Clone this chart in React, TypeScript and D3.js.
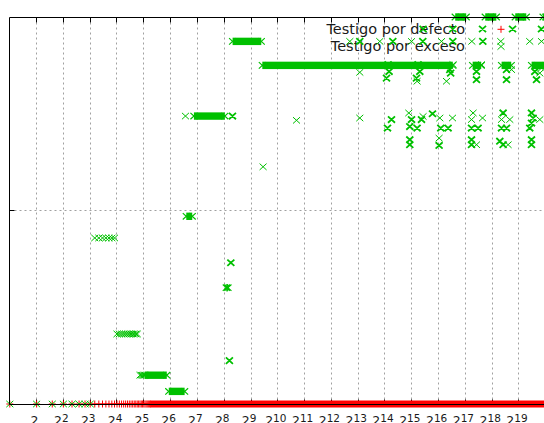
import React from "react";
import * as d3 from "d3";

const WIDTH = 544;
const HEIGHT = 423;

// x axis: n on a base-2 log scale, labelled 2^k
const X_MIN = 1;
const X_MAX = 1048576;
const tickExponents = [1, 2, 3, 4, 5, 6, 7, 8, 9, 10, 11, 12, 13, 14, 15, 16, 17, 18, 19];
const yGridValues = [0.5];

const seriesNames = ["Testigo por defecto", "Testigo por exceso"];

// "defecto" witness: value 0 for every n; individual n first, then the dense run
const defectoPoints = [
  1, 2, 3, 4, 5, 6, 7, 8, 9, 10, 11, 12, 13, 14, 15, 16, 17, 18, 19, 20, 21, 22, 23, 24, 25,
  26, 27, 28, 29, 30, 31, 32, 33, 34, 35, 36, 37, 38,
];
const defectoRuns: [number, number, number][] = [[38, 1048576, 0]];

// "exceso" witness: isolated points [n, value]
const excesoPoints: [number, number][] = [
  [1, 0], [2, 0], [3, 0], [4, 0], [5, 0], [6, 0], [7, 0], [8, 0],
  [9, 0.429], [10, 0.429], [11, 0.429], [12, 0.429], [13, 0.429], [14, 0.429], [15, 0.429],
  [16, 0.181], [17, 0.181], [18, 0.181], [19, 0.181], [20, 0.181], [21, 0.181],
  [22, 0.181], [23, 0.181], [24, 0.181], [25, 0.181], [26, 0.181], [27, 0.181],
  [29, 0.0744], [30, 0.0744], [31, 0.0744], [32, 0.0744],
  [94, 0.744], [700, 0.613], [1661, 0.733],
  [6595, 0.937], [14320, 0.937], [32540, 0.937], [70650, 0.937], [154800, 0.937],
  [327200, 0.937], [692000, 0.937], [938500, 0.937],
  [8536, 0.857], [95360, 0.877], [80400, 0.834], [198800, 0.877], [431800, 0.864],
  [938500, 0.868], [897600, 0.855], [37580, 0.834],
  [8536, 0.739], [30330, 0.752], [43840, 0.743], [67620, 0.739], [66410, 0.687],
  [93900, 0.739], [159900, 0.752], [153500, 0.735], [204200, 0.739], [174600, 0.67],
  [333500, 0.735], [413400, 0.735], [395400, 0.67], [897600, 0.735],
];

// "exceso" witness: spots where several n share nearly the same position
const excesoStacked: [number, number][] = [
  [293, 0.112], [304, 0.365], [317, 0.744],
  [43840, 0.969], [94630, 0.969], [204200, 0.969], [443800, 0.969], [938500, 0.969],
  [8536, 0.937], [20040, 0.937], [43550, 0.937], [94630, 0.937], [205700, 0.937],
  [17760, 0.877], [18220, 0.859], [17040, 0.842],
  [38570, 0.877], [40300, 0.859], [36990, 0.842],
  [87560, 0.864], [89500, 0.855],
  [174600, 0.859], [174600, 0.838],
  [379600, 0.864], [379600, 0.838],
  [789100, 0.859], [824700, 0.838],
  [19380, 0.735], [17480, 0.713],
  [32540, 0.735], [31110, 0.717], [37580, 0.713], [42110, 0.735], [55960, 0.75],
  [69350, 0.713], [31110, 0.683], [31110, 0.67], [66410, 0.668],
  [83770, 0.713],
  [153500, 0.713], [182000, 0.713], [153500, 0.683], [153500, 0.67],
  [347600, 0.752], [333500, 0.713], [379600, 0.713], [319300, 0.679], [347600, 0.67],
  [724200, 0.752], [755000, 0.739], [724200, 0.726], [692000, 0.713], [724200, 0.683], [724200, 0.67],
];

// "exceso" witness: runs of consecutive n sharing one value [from, to, value]
const excesoRuns: [number, number, number][] = [
  [33, 58, 0.0744],
  [61, 92, 0.0326],
  [96, 112, 0.485],
  [117, 260, 0.744],
  [270, 282, 0.3005],
  [318, 668, 0.937],
  [686, 94630, 0.875],
  [158000, 197400, 0.875],
  [334000, 428900, 0.875],
  [726000, 1048576, 0.875],
  [100700, 133800, 1.0],
  [218900, 291700, 1.0],
  [475800, 632900, 1.0],
  [978400, 1048576, 1.0],
];

const RED = "#ff0000";
const GREEN = "#00c000";
const GRID = "#a0a0a0";
const FONT = "'DejaVu Sans', sans-serif";

const S = 3.5; // marker half size
const SY = 3.2;

const crossPath = (cx: number, cy: number) =>
  `M${cx - S},${cy - SY}L${cx + S},${cy + SY}M${cx - S},${cy + SY}L${cx + S},${cy - SY}`;
const plusPath = (cx: number, cy: number) =>
  `M${cx - S},${cy}L${cx + S},${cy}M${cx},${cy - S}L${cx},${cy + S}`;

export default function App() {
  const x = d3.scaleLog().base(2).domain([X_MIN, X_MAX]).range([9.8, 545.8]);
  const y = d3.scaleLinear().domain([0, 1]).range([404, 17]);
  const crisp = (v: number) => Math.floor(v) + 0.5;

  const left = crisp(x(X_MIN));
  const right = crisp(x(X_MAX));
  const top = crisp(y(1));
  const bottom = crisp(y(0));

  const defectoPath = defectoPoints.map((n) => plusPath(x(n), y(0))).join("");
  const excesoPath = excesoPoints.map(([n, v]) => crossPath(x(n), y(v))).join("");
  const stackedPath = excesoStacked.map(([n, v]) => crossPath(x(n), y(v))).join("");
  const runEnds = excesoRuns
    .map(([a, b, v]) => crossPath(x(a), y(v)) + crossPath(x(b), y(v)))
    .join("");

  const legendX = 465;
  const sampleX = 501;

  return (
    <svg
      width={WIDTH}
      height={HEIGHT}
      style={{ position: "absolute", left: 0, top: 0, background: "#fff" }}
      fontFamily={FONT}
    >
      <rect x={0} y={0} width={WIDTH} height={HEIGHT} fill="#fff" />

      {/* grid */}
      <g stroke={GRID} strokeWidth={1} strokeDasharray="2,3">
        {tickExponents.map((k) => {
          const px = crisp(x(2 ** k));
          return <line key={k} x1={px} x2={px} y1={top} y2={bottom} />;
        })}
        {yGridValues.map((v) => {
          const py = crisp(y(v));
          return <line key={v} x1={left} x2={right} y1={py} y2={py} />;
        })}
      </g>

      {/* bottom ticks sit beneath the data */}
      <g stroke="#000" strokeWidth={1}>
        {tickExponents.map((k) => {
          const px = crisp(x(2 ** k));
          return <line key={k} x1={px} x2={px} y1={bottom} y2={bottom - 5} />;
        })}
      </g>

      {/* key text */}
      <g fontSize={14.5} fill="#1a1a1a" textAnchor="end">
        <text x={legendX} y={33.8}>{seriesNames[0]}</text>
        <text x={legendX} y={50.5}>{seriesNames[1]}</text>
      </g>

      {/* Testigo por defecto */}
      <g>
        {defectoRuns.map(([a, b, v], i) => (
          <rect key={i} x={x(a)} y={y(v) - S} width={x(b) - x(a)} height={2 * S} fill={RED} />
        ))}
        <path d={defectoPath} stroke={RED} strokeWidth={1} fill="none" />
        <path d={plusPath(sampleX, 29.3)} stroke={RED} strokeWidth={1} fill="none" />
      </g>

      {/* Testigo por exceso */}
      <g>
        {excesoRuns.map(([a, b, v], i) => (
          <rect
            key={i}
            x={x(a)}
            y={y(v) - SY - 0.5}
            width={x(b) - x(a)}
            height={2 * SY + 1}
            fill={GREEN}
          />
        ))}
        <path d={runEnds} stroke={GREEN} strokeWidth={1.2} fill="none" />
        <path d={excesoPath} stroke={GREEN} strokeWidth={1} fill="none" />
        <path d={stackedPath} stroke={GREEN} strokeWidth={1.8} fill="none" />
        <path d={crossPath(sampleX, 46.5)} stroke={GREEN} strokeWidth={1} fill="none" />
      </g>

      {/* border and remaining ticks */}
      <g stroke="#000" strokeWidth={1} fill="none">
        <path d={`M${left},${top}L${right},${top}L${right},${bottom}L${left},${bottom}Z`} />
        {tickExponents.map((k) => {
          const px = crisp(x(2 ** k));
          return <line key={k} x1={px} x2={px} y1={top} y2={top + 5} />;
        })}
        {yGridValues.map((v) => {
          const py = crisp(y(v));
          return <line key={v} x1={left} x2={left + 5} y1={py} y2={py} />;
        })}
      </g>

      {/* x tick labels, sitting at the lower edge as in the plot output */}
      <g fontSize={12.5} fill="#1a1a1a" textAnchor="middle">
        {tickExponents.map((k) => (
          <text key={k} x={x(2 ** k) - 2} y={425}>
            2
            {k > 1 ? (
              <tspan fontSize={10.5} dy={-3}>
                {k}
              </tspan>
            ) : null}
          </text>
        ))}
      </g>
    </svg>
  );
}
